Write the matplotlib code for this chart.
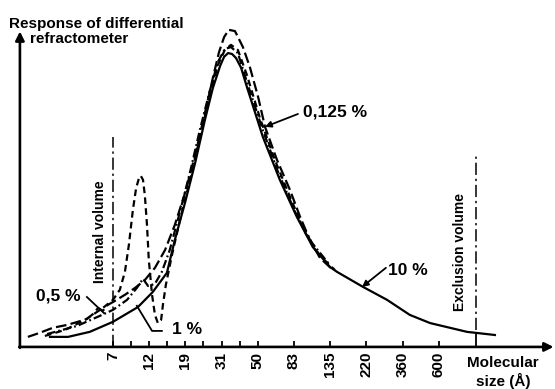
import matplotlib.pyplot as plt

plt.rcParams['font.family'] = ['Liberation Sans', 'DejaVu Sans']

# Positions along the elution axis (one unit per labelled size) and tick labels
tick_pos = [0, 1, 2, 3, 4, 5, 6, 7, 8, 9]
tick_labels = ['7', '12', '19', '31', '50', '83', '135', '220', '360', '600']
minor_pos = [0.5, 1.5, 2.5, 3.5]
internal_pos = 0.0
exclusion_pos = 10.03

# Solid curve (10 %)
x_10 = [-1.74, -1.24, -0.64, 0.00, 0.69, 1.10, 1.49, 1.71, 1.99, 2.27, 2.54, 2.76,
        2.96, 3.07, 3.18, 3.29, 3.40, 3.54, 3.70, 4.14, 4.61, 5.08, 5.52, 5.99,
        6.19, 6.91, 7.57, 8.20, 8.76, 9.78, 10.55]
y_10 = [3.2, 3.2, 4.8, 8.0, 12.7, 17.5, 23.6, 34.1, 45.9, 58.6, 72.3, 82.5,
        89.5, 92.4, 93.6, 93.3, 92.0, 88.9, 82.8, 66.9, 53.2, 41.4, 31.8, 25.5,
        23.9, 19.1, 15.0, 10.2, 7.6, 4.8, 3.8]

# Long dashed curve (0,125 %)
x_0125 = [-2.35, -2.02, -1.66, -1.27, -0.97, -0.72, -0.55, -0.41, -0.28, -0.14, 0.00,
          0.33, 0.61, 0.88, 1.16, 1.44, 1.71, 1.99, 2.27, 2.54, 2.76, 2.93, 3.07,
          3.20, 3.37, 3.59, 3.78, 4.01, 4.20, 4.53, 4.89, 5.17, 5.44, 5.72, 6.08]
y_0125 = [3.2, 4.5, 6.1, 7.0, 8.0, 8.9, 10.5, 12.4, 11.5, 13.4, 14.3,
          16.6, 18.8, 21.3, 25.2, 30.9, 38.9, 49.0, 61.1, 74.5, 85.7, 93.9, 98.7,
          101.0, 100.6, 95.5, 89.2, 79.6, 70.1, 59.6, 50.0, 41.4, 34.1, 28.3, 24.5]

# Dashed curve with the narrow peak near the internal volume (0,5 %)
x_05 = [-1.88, -1.33, -0.77, -0.28, 0.00, 0.19, 0.33, 0.44, 0.55, 0.64, 0.72, 0.77,
        0.83, 0.88, 0.94, 0.99, 1.08, 1.16, 1.24, 1.33, 1.38, 1.46, 1.63, 1.85,
        2.13, 2.40, 2.68, 2.90, 3.09, 3.26, 3.45, 3.70, 4.06, 4.47, 4.89, 5.30,
        5.72, 6.13]
y_05 = [3.5, 5.4, 8.6, 12.4, 15.0, 18.2, 23.9, 32.5, 43.6, 50.6, 53.8, 54.5,
        53.2, 48.4, 38.9, 27.7, 16.6, 10.2, 7.6, 8.6, 13.4, 19.7, 29.3, 40.4,
        53.2, 66.6, 80.3, 89.8, 94.6, 96.2, 94.6, 86.6, 72.9, 59.6, 47.8, 36.6,
        29.0, 24.5]

# Dash-dot curve (1 %)
x_1 = [-1.82, -0.99, -0.36, 0.00, 0.39, 0.66, 0.83, 0.97, 1.16, 1.35, 1.57, 1.85,
       2.13, 2.40, 2.68, 2.90, 3.09, 3.26, 3.45, 3.70, 4.12, 4.56, 5.03, 5.50, 5.99]
y_1 = [4.1, 6.7, 9.9, 11.8, 15.0, 18.8, 21.7, 19.4, 20.1, 23.9, 30.9, 43.0,
       55.7, 69.1, 81.8, 90.8, 94.9, 95.5, 93.6, 84.4, 69.7, 55.7, 43.0, 33.1, 26.1]

fig = plt.figure(figsize=(5.55, 3.89), dpi=100)
ax = fig.add_axes([0, 0, 1, 1])
ax.set_xlim(-3.12, 12.21)
ax.set_ylim(-13.4, 110.5)
ax.axis('off')

x0 = -2.57  # position of the vertical axis

# Axes with arrows
ax.annotate('', xy=(x0, 100.5), xytext=(x0, -0.3),
            arrowprops=dict(arrowstyle='-|>', lw=1.9, color='k', mutation_scale=13,
                            shrinkA=0, shrinkB=0))
ax.annotate('', xy=(12.17, 0), xytext=(x0 - 0.02, 0),
            arrowprops=dict(arrowstyle='-|>', lw=1.9, color='k', mutation_scale=13,
                            shrinkA=0, shrinkB=0))

# Tick marks
for p in tick_pos + minor_pos:
    ax.plot([p, p], [0, 1.9], color='k', lw=1.3, solid_capstyle='butt')
for p, lab in zip(tick_pos, tick_labels):
    ax.text(p, -1.6, lab, rotation=90, ha='center', va='top',
            fontsize=11, fontweight='bold')

# Internal and exclusion volume markers
ax.plot([internal_pos, internal_pos], [0, 66.9], color='k', lw=1.1,
        dashes=(8, 2.5, 1.5, 2.5))
ax.plot([exclusion_pos, exclusion_pos], [5.4, 61.1], color='k', lw=1.1,
        dashes=(8, 2.5, 1.5, 2.5))
ax.plot([exclusion_pos, exclusion_pos], [0, 4.5], color='k', lw=1.3)

# Chromatograms
lw = 1.6
ax.plot(x_10, y_10, color='k', lw=lw, solid_joinstyle='round')
ax.plot(x_0125, y_0125, color='k', lw=lw, dashes=(4.8, 1.9))
ax.plot(x_05, y_05, color='k', lw=lw, dashes=(3.0, 1.9))
ax.plot(x_1, y_1, color='k', lw=lw, dashes=(3.8, 1.4, 0.8, 1.4))

# Curve labels
lab_kw = dict(fontsize=12.5, fontweight='bold', va='center')
ax.text(5.25, 74.8, '0,125 %', **lab_kw)
ax.annotate('', xy=(4.20, 70.1), xytext=(5.11, 74.2),
            arrowprops=dict(arrowstyle='-|>', lw=1.3, color='k', mutation_scale=9,
                            shrinkA=0, shrinkB=0))
ax.text(7.60, 24.5, '10 %', **lab_kw)
ax.annotate('', xy=(6.88, 19.1), xytext=(7.54, 25.2),
            arrowprops=dict(arrowstyle='-|>', lw=1.3, color='k', mutation_scale=9,
                            shrinkA=0, shrinkB=0))
ax.text(-2.13, 16.2, '0,5 %', **lab_kw)
ax.plot([-0.72, -0.25], [15.9, 10.8], color='k', lw=1.3)
ax.text(1.63, 5.7, '1 %', **lab_kw)
ax.plot([1.35, 1.08, 0.66], [5.1, 5.1, 13.1], color='k', lw=1.3)

# Axis titles and volume annotations
ax.text(-2.87, 101.6, 'Response of differential', fontsize=11, fontweight='bold')
ax.text(-2.29, 96.8, 'refractometer', fontsize=11, fontweight='bold')
ax.text(-0.36, 36.6, 'Internal volume', rotation=90, ha='center', va='center',
        fontsize=10, fontweight='bold')
ax.text(9.59, 30.3, 'Exclusion volume', rotation=90, ha='center', va='center',
        fontsize=10, fontweight='bold')
ax.text(10.77, -6.4, 'Molecular', ha='center', fontsize=11, fontweight='bold')
ax.text(10.77, -12.4, 'size (Å)', ha='center', fontsize=11, fontweight='bold')

fig.savefig('out.png', dpi=100)
